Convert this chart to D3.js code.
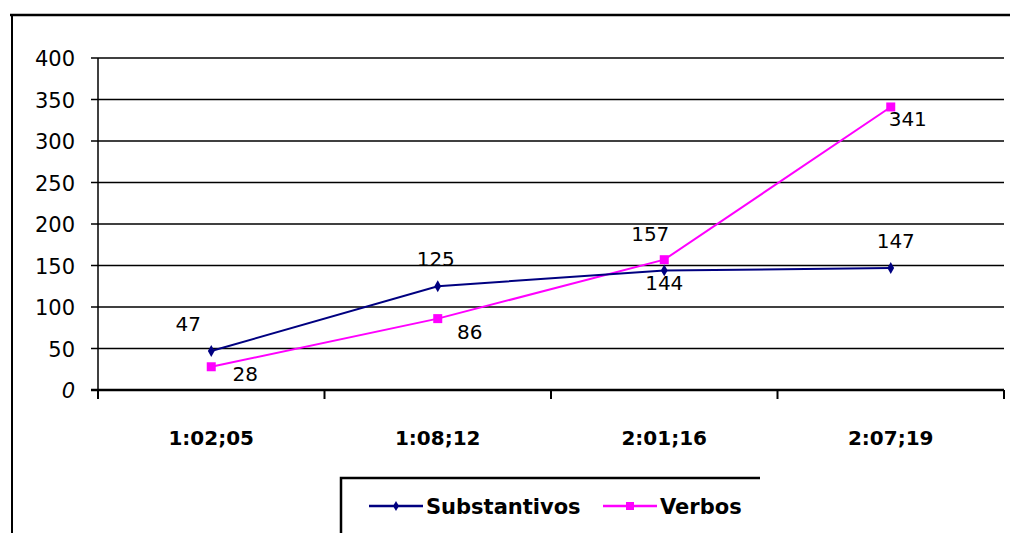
<!DOCTYPE html>
<html>
<head>
<meta charset="utf-8">
<script src="https://d3js.org/d3.v7.min.js"></script>
<style>
  body { margin: 0; background: #fff; }
  svg { display: block; }
  .grid line { stroke: #000; stroke-width: 1.5; }
  .ylab { font-family: "DejaVu Sans", sans-serif; font-size: 21px; fill: #000; }
  .xlab { font-family: "DejaVu Sans", sans-serif; font-size: 20px; font-weight: bold; fill: #000; }
  .dlab { font-family: "DejaVu Sans", sans-serif; font-size: 20px; fill: #000; }
  .leg { font-family: "DejaVu Sans", sans-serif; font-size: 21px; font-weight: bold; fill: #000; }
</style>
</head>
<body>
<script>
//chart data
var categories = ["1:02;05", "1:08;12", "2:01;16", "2:07;19"];
var substantivos = [47, 125, 144, 147];
var verbos = [28, 86, 157, 341];
var yTicks = [0, 50, 100, 150, 200, 250, 300, 350, 400];
var seriesNames = ["Substantivos", "Verbos"];

//label offsets (dx, dy to baseline) for each point
var subOffsets = [[-23, -20], [-2, -20], [0, 20], [5, -20]];
var verOffsets = [[34, 14], [32, 20], [-14, -19], [17, 19]];

(function(){
    var width = 1010, height = 533;

    var svg = d3.select("body").append("svg")
        .attr("width", width)
        .attr("height", height);

    //outer frame pieces
    svg.append("line").attr("x1", 10).attr("x2", 1010).attr("y1", 15).attr("y2", 15)
        .attr("stroke", "#000").attr("stroke-width", 2.5);
    svg.append("line").attr("x1", 12).attr("x2", 12).attr("y1", 14).attr("y2", 533)
        .attr("stroke", "#000").attr("stroke-width", 2);

    var left = 98, right = 1004, top = 58, bottom = 390;

    var x = d3.scaleBand().domain(categories).range([left, right]);
    var y = d3.scaleLinear().domain([0, 400]).range([bottom, top]);

    //gridlines
    svg.append("g").attr("class", "grid")
        .selectAll("line")
        .data(yTicks.filter(function(d){ return d > 0; }))
        .enter().append("line")
        .attr("x1", left - 7).attr("x2", right)
        .attr("y1", function(d){ return y(d); })
        .attr("y2", function(d){ return y(d); });

    //y axis line
    svg.append("line").attr("x1", left).attr("x2", left).attr("y1", top).attr("y2", bottom)
        .attr("stroke", "#000").attr("stroke-width", 1.5);

    //x axis (thick) and ticks
    svg.append("line").attr("x1", left - 7).attr("x2", right).attr("y1", bottom).attr("y2", bottom)
        .attr("stroke", "#000").attr("stroke-width", 2.5);
    var xTickPos = categories.map(function(c){ return x(c); }).concat([right]);
    svg.selectAll(".xtick").data(xTickPos).enter().append("line")
        .attr("x1", function(d){ return d; }).attr("x2", function(d){ return d; })
        .attr("y1", bottom).attr("y2", bottom + 9)
        .attr("stroke", "#000").attr("stroke-width", 2);

    //y labels
    svg.selectAll(".ylab").data(yTicks).enter().append("text")
        .attr("class", "ylab")
        .attr("x", left - 23)
        .attr("y", function(d){ return y(d) + 8; })
        .attr("text-anchor", "end")
        .style("font-style", function(d){ return d === 0 ? "italic" : null; })
        .text(function(d){ return d; });

    //x labels
    svg.selectAll(".xlab").data(categories).enter().append("text")
        .attr("class", "xlab")
        .attr("x", function(d){ return x(d) + x.bandwidth() / 2; })
        .attr("y", 445)
        .attr("text-anchor", "middle")
        .text(function(d){ return d; });

    var cx = function(i){ return x(categories[i]) + x.bandwidth() / 2; };
    var line = d3.line()
        .x(function(d, i){ return cx(i); })
        .y(function(d){ return y(d); });

    //Verbos series
    svg.append("path").datum(verbos)
        .attr("d", line).attr("fill", "none")
        .attr("stroke", "#ff00ff").attr("stroke-width", 2);
    svg.selectAll(".vmark").data(verbos).enter().append("rect")
        .attr("x", function(d, i){ return cx(i) - 4.5; })
        .attr("y", function(d){ return y(d) - 4.5; })
        .attr("width", 9).attr("height", 9)
        .attr("fill", "#ff00ff");

    //Substantivos series
    svg.append("path").datum(substantivos)
        .attr("d", line).attr("fill", "none")
        .attr("stroke", "#000080").attr("stroke-width", 2);
    svg.selectAll(".smark").data(substantivos).enter().append("path")
        .attr("d", d3.symbol().type(d3.symbolDiamond).size(40))
        .attr("transform", function(d, i){ return "translate(" + cx(i) + "," + y(d) + ")"; })
        .attr("fill", "#000080");

    //data labels
    svg.selectAll(".slab").data(substantivos).enter().append("text")
        .attr("class", "dlab")
        .attr("x", function(d, i){ return cx(i) + subOffsets[i][0]; })
        .attr("y", function(d, i){ return y(d) + subOffsets[i][1]; })
        .attr("text-anchor", "middle")
        .text(function(d){ return d; });
    svg.selectAll(".vlab").data(verbos).enter().append("text")
        .attr("class", "dlab")
        .attr("x", function(d, i){ return cx(i) + verOffsets[i][0]; })
        .attr("y", function(d, i){ return y(d) + verOffsets[i][1]; })
        .attr("text-anchor", "middle")
        .text(function(d){ return d; });

    //legend
    var leg = svg.append("g");
    leg.append("path")
        .attr("d", "M341,540 L341,478 L760,478")
        .attr("fill", "none").attr("stroke", "#000").attr("stroke-width", 2.5);
    var legColors = ["#000080", "#ff00ff"];
    var legX = [369, 603];
    seriesNames.forEach(function(name, i){
        leg.append("line").attr("x1", legX[i]).attr("x2", legX[i] + 54)
            .attr("y1", 506).attr("y2", 506)
            .attr("stroke", legColors[i]).attr("stroke-width", 2.5);
        if (i === 0) {
            leg.append("path")
                .attr("d", d3.symbol().type(d3.symbolDiamond).size(30))
                .attr("transform", "translate(" + (legX[i] + 27) + ",506)")
                .attr("fill", legColors[i]);
        } else {
            leg.append("rect").attr("x", legX[i] + 23).attr("y", 502)
                .attr("width", 8).attr("height", 8).attr("fill", legColors[i]);
        }
        leg.append("text").attr("class", "leg")
            .attr("x", legX[i] + 57).attr("y", 514)
            .text(name);
    });
})();
</script>
</body>
</html>
